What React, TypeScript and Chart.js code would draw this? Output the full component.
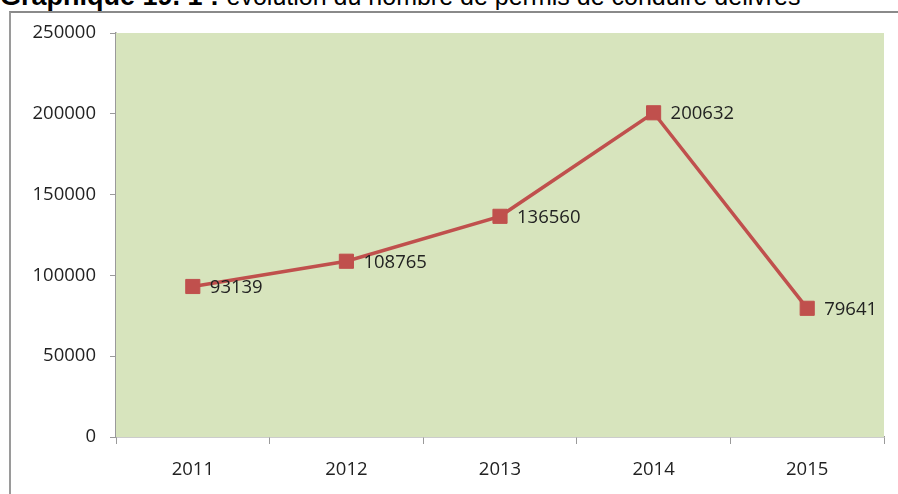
import React, { useEffect, useRef } from "react";
import { Chart, registerables } from "chart.js";

Chart.register(...registerables);

const years = ["2011", "2012", "2013", "2014", "2015"];
const permits = [93139, 108765, 136560, 200632, 79641];
const yTickValues = [0, 50000, 100000, 150000, 200000, 250000];

const titleBold = "Graphique 19. 1 : ";
const titleRest = "évolution du nombre de permis de conduire délivrés";

const FONT = "'Open Sans', 'Liberation Sans', sans-serif";
const TEXT = "#222222";
const AXIS = "#9a9a9a";
const RED = "#C0504D";
const PLOT_BG = "#D7E4BD";

const bgPlugin = {
  id: "plotBg",
  beforeDatasetsDraw(chart: any) {
    const { ctx, chartArea } = chart;
    ctx.save();
    ctx.fillStyle = PLOT_BG;
    ctx.fillRect(chartArea.left, chartArea.top, chartArea.right - chartArea.left, chartArea.bottom - chartArea.top);
    ctx.restore();
  },
};

const labelPlugin = {
  id: "pointLabels",
  afterDatasetsDraw(chart: any) {
    const { ctx } = chart;
    const meta = chart.getDatasetMeta(0);
    const data = chart.data.datasets[0].data as number[];
    ctx.save();
    ctx.font = `18.5px ${FONT}`;
    ctx.fillStyle = TEXT;
    ctx.textAlign = "left";
    ctx.textBaseline = "middle";
    meta.data.forEach((pt: any, i: number) => {
      ctx.fillText(String(data[i]), pt.x + 17, pt.y + 1);
    });
    ctx.restore();
  },
};

function PermitChart() {
  const ref = useRef<HTMLCanvasElement | null>(null);
  useEffect(() => {
    if (!ref.current) return;
    const chart = new Chart(ref.current, {
      type: "line",
      data: {
        labels: years,
        datasets: [
          {
            data: permits,
            borderColor: RED,
            backgroundColor: RED,
            borderWidth: 3.5,
            pointStyle: "rect",
            pointRadius: 10,
            pointBorderWidth: 1,
            pointBackgroundColor: RED,
            pointBorderColor: RED,
            tension: 0,
            fill: false,
          },
        ],
      },
      options: {
        responsive: false,
        animation: false,
        devicePixelRatio: 1,
        layout: { padding: { left: 0, top: 33, right: 14, bottom: 0 } },
        plugins: { legend: { display: false }, tooltip: { enabled: false }, title: { display: false } },
        scales: {
          x: {
            offset: true,
            grid: { offset: true, drawOnChartArea: false, drawTicks: true, tickLength: 7, color: AXIS, lineWidth: 1 },
            border: { display: true, color: AXIS, width: 1.5 },
            ticks: { color: TEXT, font: { family: FONT, size: 18.5 }, padding: 15, maxRotation: 0 },
            afterFit(scale: any) {
              scale.height = 57;
            },
          },
          y: {
            min: yTickValues[0],
            max: yTickValues[yTickValues.length - 1],
            ticks: {
              stepSize: yTickValues[1] - yTickValues[0],
              color: TEXT,
              font: { family: FONT, size: 18.5 },
              padding: 14,
              callback: (v: any) => String(v),
            },
            grid: { drawOnChartArea: false, drawTicks: true, tickLength: 6, color: AXIS, lineWidth: 1 },
            border: { display: true, color: AXIS, width: 1.5 },
            afterFit(scale: any) {
              scale.width = 116;
            },
          },
        },
      },
      plugins: [bgPlugin, labelPlugin],
    });
    return () => chart.destroy();
  }, []);
  return <canvas ref={ref} width={898} height={494} style={{ position: "absolute", left: 0, top: 0, width: 898, height: 494 }} />;
}

export default function App() {
  useEffect(() => {
    document.body.style.margin = "0";
  }, []);
  return (
    <div style={{ position: "relative", width: 898, height: 494, overflow: "hidden", background: "#fff" }}>
      <div
        style={{
          position: "absolute",
          left: 0,
          top: -16,
          whiteSpace: "nowrap",
          fontFamily: "'Liberation Sans', Arial, sans-serif",
          fontSize: 25,
          lineHeight: "25px",
          color: "#000",
        }}
      >
        <b style={{ fontSize: 27 }}>{titleBold}</b>
        <span>{titleRest}</span>
      </div>
      <div
        style={{
          position: "absolute",
          left: 9,
          top: 11,
          width: 1000,
          height: 600,
          borderTop: "2px solid #8a8a8a",
          borderLeft: "2px solid #9a9a9a",
          boxSizing: "border-box",
        }}
      />
      <PermitChart />
    </div>
  );
}
